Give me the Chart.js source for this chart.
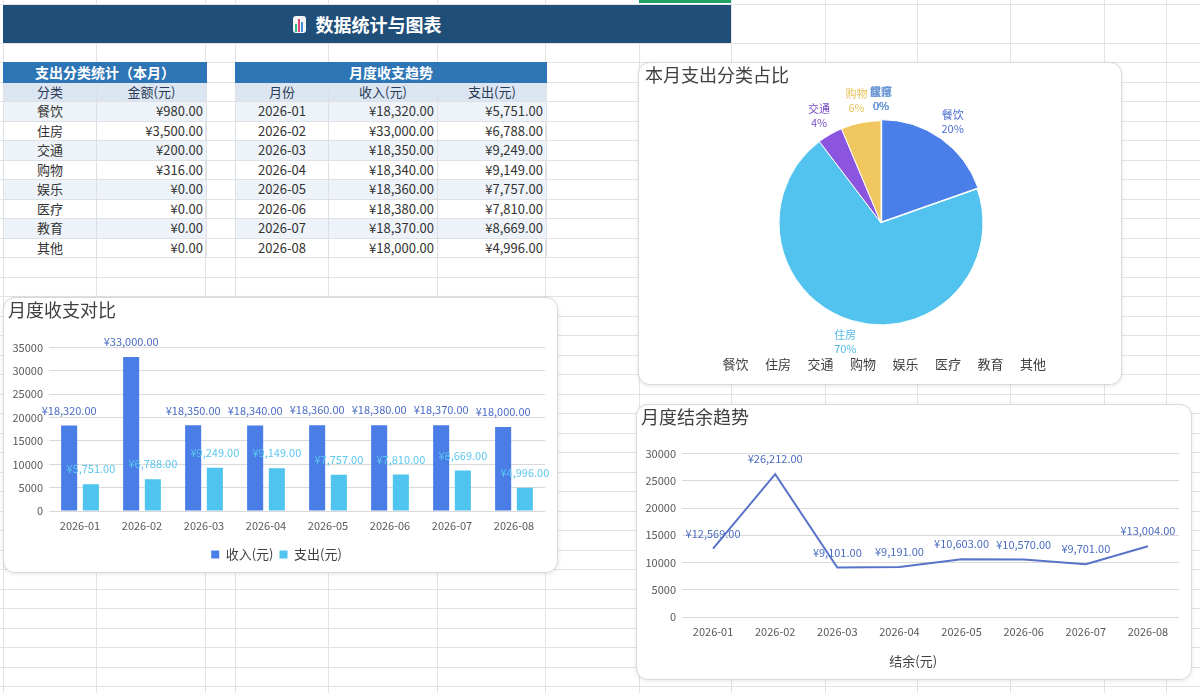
<!DOCTYPE html>
<html>
<head>
<meta charset="utf-8">
<script src="https://cdn.jsdelivr.net/npm/chart.js@4"></script>
<style>
  html, body { margin: 0; padding: 0; }
  body { width: 1200px; height: 693px; position: relative; overflow: hidden; background: #fff;
         font-family: "Noto Sans CJK SC", "Microsoft YaHei", sans-serif; color: #333; }
  .vline { position: absolute; top: 0; bottom: 0; width: 1px; background: #e3e3e3; }
  .hline { position: absolute; left: 0; right: 0; height: 1px; background: #e3e3e3; }
  #selMark { position: absolute; left: 639px; top: 0; width: 92px; height: 3px; background: #21a366; }
  #banner { position: absolute; left: 3px; top: 5px; width: 728px; height: 38px; background: #1f4e79;
            color: #fff; font-weight: bold; font-size: 18px; display: flex; align-items: center; justify-content: center; }
  #banner .icon { display: inline-flex; align-items: flex-end; gap: 1px; width: 13px; height: 17px; padding: 1px 2px;
                  margin-right: 10px; background: #f4f4f4; border-radius: 3px; box-sizing: border-box; }
  #banner .icon i { display: block; width: 3px; }
  table { position: absolute; border-collapse: collapse; table-layout: fixed; font-size: 13px; }
  td, th { height: 18.5px; padding: 0 3px; border: 1px solid #dde1e6; white-space: nowrap; line-height: 18px; }
  th.title { background: #2e75b6; color: #fff; font-weight: bold; font-size: 14px; border-color: #2e75b6; }
  th.head { background: #dbe6f2; color: #2b3a55; font-weight: normal; }
  tr.tint td { background: #eef3fa; }
  td.c { text-align: center; }
  td.r { text-align: right; }
  .card { position: absolute; background: #fff; border: 1px solid #dadada; border-radius: 12px;
          box-shadow: 0 1px 4px rgba(0,0,0,0.10); box-sizing: border-box; }
  .card .wrap { position: absolute; left: 0; top: 0; }
</style>
</head>
<body>
<div id="sheet"></div>
<div id="selMark"></div>
<div id="banner"><span class="icon"><i style="height:8px;background:#2fb98a"></i><i style="height:13px;background:#e0457b"></i><i style="height:10px;background:#3d8fe0"></i></span>数据统计与图表</div>

<table id="categoryTable" style="left:3px; top:62px; width:203px;">
  <colgroup><col style="width:93px"><col style="width:110px"></colgroup>
  <thead>
    <tr><th class="title" colspan="2">支出分类统计（本月）</th></tr>
    <tr><th class="head">分类</th><th class="head">金额(元)</th></tr>
  </thead>
  <tbody></tbody>
</table>

<table id="monthTable" style="left:235px; top:62px; width:311px;">
  <colgroup><col style="width:93px"><col style="width:109px"><col style="width:109px"></colgroup>
  <thead>
    <tr><th class="title" colspan="3">月度收支趋势</th></tr>
    <tr><th class="head">月份</th><th class="head">收入(元)</th><th class="head">支出(元)</th></tr>
  </thead>
  <tbody></tbody>
</table>

<div class="card" style="left:638px; top:62px; width:484px; height:323px;">
  <div class="wrap" style="width:482px; height:321px;"><canvas id="pieChart"></canvas></div>
</div>
<div class="card" style="left:3px; top:297px; width:555px; height:276px;">
  <div class="wrap" style="width:553px; height:274px;"><canvas id="barChart"></canvas></div>
</div>
<div class="card" style="left:636px; top:404px; width:556px; height:276px;">
  <div class="wrap" style="width:554px; height:274px;"><canvas id="lineChart"></canvas></div>
</div>

<script>
// data read from the sheet
const categories = ["餐饮", "住房", "交通", "购物", "娱乐", "医疗", "教育", "其他"];
const categoryAmounts = [980, 3500, 200, 316, 0, 0, 0, 0];
const months = ["2026-01", "2026-02", "2026-03", "2026-04", "2026-05", "2026-06", "2026-07", "2026-08"];
const incomeValues = [18320, 33000, 18350, 18340, 18360, 18380, 18370, 18000];
const expenseValues = [5751, 6788, 9249, 9149, 7757, 7810, 8669, 4996];
const balanceValues = [12569, 26212, 9101, 9191, 10603, 10570, 9701, 13004];
const barAxisMax = 35000;
const lineAxisMax = 30000;
const tickStep = 5000;

// colours
const pieColors = ["#4a7ee8", "#52c3ee", "#8b55e0", "#f0c75e", "#7f9fd8", "#6c8ebf", "#5b8ad6", "#7ba7d9"];
const pieLabelColors = ["#4f6fd0", "#55bde6", "#7a4fc8", "#e8c35c", "#7f9fd8", "#6c8ebf", "#5b8ad6", "#7ba7d9"];

const FONT = "'Noto Sans CJK SC', 'Microsoft YaHei', sans-serif";
Chart.defaults.font.family = FONT;
Chart.defaults.color = "#595959";
Chart.defaults.animation = false;

function money(v) {
  return "¥" + v.toLocaleString("en-US", { minimumFractionDigits: 2, maximumFractionDigits: 2 });
}

// spreadsheet grid behind everything
const sheet = document.querySelector("#sheet");
[3, 96, 205, 235, 328, 437, 545, 639, 731, 825, 917, 1010, 1104, 1166].forEach((x) => {
  let d = document.createElement("div");
  d.className = "vline";
  d.style.left = x + "px";
  sheet.appendChild(d);
});
let rowLines = [4, 43];
for (let y = 62; y < 693; y += 19.5) rowLines.push(Math.round(y));
rowLines.forEach((y) => {
  let d = document.createElement("div");
  d.className = "hline";
  d.style.top = y + "px";
  sheet.appendChild(d);
});

// tables
const catBody = document.querySelector("#categoryTable tbody");
categories.forEach((name, i) => {
  let row = document.createElement("tr");
  if (i % 2 === 0) row.className = "tint";
  row.innerHTML = `<td class="c">${name}</td><td class="r">${money(categoryAmounts[i])}</td>`;
  catBody.appendChild(row);
});
const monthBody = document.querySelector("#monthTable tbody");
months.forEach((m, i) => {
  let row = document.createElement("tr");
  if (i % 2 === 0) row.className = "tint";
  row.innerHTML = `<td class="c">${m}</td><td class="r">${money(incomeValues[i])}</td><td class="r">${money(expenseValues[i])}</td>`;
  monthBody.appendChild(row);
});

// value labels drawn from the elements the library laid out
const valueLabels = {
  id: "valueLabels",
  afterDatasetsDraw(chart) {
    const ctx = chart.ctx;
    chart.data.datasets.forEach((ds, di) => {
      const meta = chart.getDatasetMeta(di);
      const total = ds.data.reduce((a, b) => a + b, 0);
      meta.data.forEach((el, i) => {
        const v = ds.data[i];
        ctx.save();
        ctx.textAlign = "center";
        ctx.textBaseline = "middle";
        ctx.font = "11px " + FONT;
        if (meta.type === "pie") {
          const a = (el.startAngle + el.endAngle) / 2;
          const r = el.outerRadius + 22;
          const x = el.x + Math.cos(a) * r;
          const y = el.y + Math.sin(a) * r;
          ctx.fillStyle = ds.labelColors[i];
          ctx.fillText(chart.data.labels[i], x, y - 7);
          ctx.fillText(Math.round((v / total) * 100) + "%", x, y + 7);
        } else {
          ctx.fillStyle = ds.labelColor;
          ctx.fillText(money(v), el.x, el.y - 15);
        }
        ctx.restore();
      });
    });
  },
};

// legend entries with text only
function textOnlyLabels(texts) {
  return texts.map((t, i) => ({
    text: t, fillStyle: "rgba(0,0,0,0)", strokeStyle: "rgba(0,0,0,0)", lineWidth: 0,
    hidden: false, index: i, datasetIndex: 0, fontColor: "#404040",
  }));
}

function cardTitle(text, bottom) {
  return {
    display: true, text: text, align: "start", color: "#404040",
    font: { size: 18, weight: "normal" }, padding: { top: 1, bottom: bottom },
  };
}

// pie
new Chart(document.querySelector("#pieChart"), {
  type: "pie",
  data: {
    labels: categories,
    datasets: [{
      data: categoryAmounts,
      backgroundColor: pieColors,
      labelColors: pieLabelColors,
      borderColor: "#ffffff",
      borderWidth: 1,
      offset: [5, 0, 0, 0, 0, 0, 0, 0],
      radius: 102,
    }],
  },
  options: {
    responsive: true,
    maintainAspectRatio: false,
    layout: { padding: { left: 6, right: 4, top: 0, bottom: 3 } },
    plugins: {
      title: cardTitle("本月支出分类占比", 12),
      legend: {
        position: "bottom",
        labels: { boxWidth: 0, boxHeight: 0, padding: 10, font: { size: 13 }, color: "#404040",
                  generateLabels: (chart) => textOnlyLabels(chart.data.labels) },
      },
      tooltip: { enabled: false },
    },
  },
  plugins: [valueLabels],
});

// bars
new Chart(document.querySelector("#barChart"), {
  type: "bar",
  data: {
    labels: months,
    datasets: [
      { label: "收入(元)", data: incomeValues, backgroundColor: "#4a7de6", labelColor: "#4a6bc5",
        categoryPercentage: 0.7, barPercentage: 0.74 },
      { label: "支出(元)", data: expenseValues, backgroundColor: "#4fc4ee", labelColor: "#5cc6ef",
        categoryPercentage: 0.7, barPercentage: 0.74 },
    ],
  },
  options: {
    responsive: true,
    maintainAspectRatio: false,
    layout: { padding: { left: 4, right: 12, top: 0, bottom: 1 } },
    plugins: {
      title: cardTitle("月度收支对比", 27),
      legend: {
        position: "bottom",
        labels: { boxWidth: 8, boxHeight: 8, padding: 6, font: { size: 13 }, color: "#404040" },
      },
      tooltip: { enabled: false },
    },
    scales: {
      x: {
        grid: { display: false, drawTicks: false },
        border: { display: false },
        ticks: { padding: 8, font: { size: 11 } },
        afterFit: (s) => { s.height = 31; },
      },
      y: {
        min: 0,
        max: barAxisMax,
        border: { display: false },
        grid: { color: "#d9d9d9", drawTicks: false },
        ticks: { stepSize: tickStep, padding: 6, font: { size: 11 }, callback: (v) => String(v) },
        afterFit: (s) => { s.width = 41; },
      },
    },
  },
  plugins: [valueLabels],
});

// balance line
new Chart(document.querySelector("#lineChart"), {
  type: "line",
  data: {
    labels: months,
    datasets: [{
      label: "结余(元)", data: balanceValues, borderColor: "#5873c8", borderWidth: 2,
      pointRadius: 0, tension: 0, labelColor: "#4a6bc0",
    }],
  },
  options: {
    responsive: true,
    maintainAspectRatio: false,
    layout: { padding: { left: 4, right: 12, top: 0, bottom: 1 } },
    plugins: {
      title: cardTitle("月度结余趋势", 26),
      legend: {
        position: "bottom",
        labels: { boxWidth: 0, boxHeight: 0, padding: 10, font: { size: 13 }, color: "#404040",
                  generateLabels: (chart) => textOnlyLabels(chart.data.datasets.map((d) => d.label)) },
      },
      tooltip: { enabled: false },
    },
    scales: {
      x: {
        offset: true,
        grid: { display: false, drawTicks: false },
        border: { display: false },
        ticks: { padding: 8, font: { size: 11 } },
        afterFit: (s) => { s.height = 28; },
      },
      y: {
        min: 0,
        max: lineAxisMax,
        border: { display: false },
        grid: { color: "#d9d9d9", drawTicks: false },
        ticks: { stepSize: tickStep, padding: 6, font: { size: 11 }, callback: (v) => String(v) },
        afterFit: (s) => { s.width = 41; },
      },
    },
  },
  plugins: [valueLabels],
});
</script>
</body>
</html>
